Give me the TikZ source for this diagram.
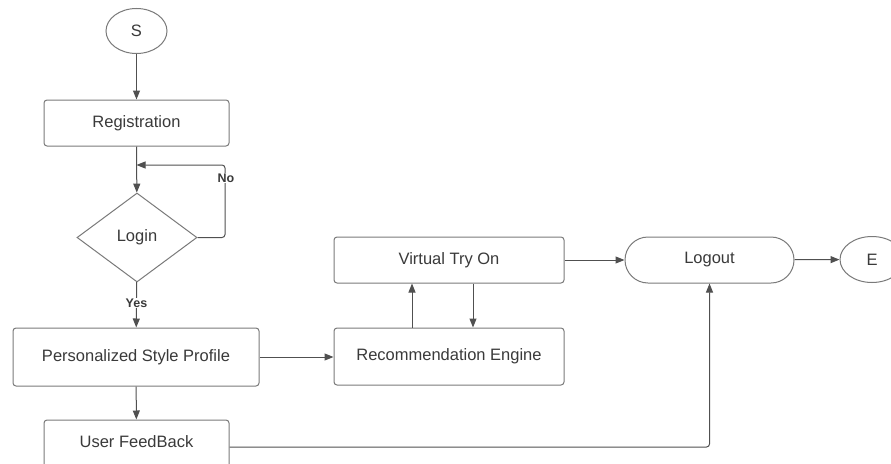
\documentclass[tikz,border=0pt]{standalone}
\usepackage{fontspec}
\setmainfont{Liberation Sans}
\usetikzlibrary{shapes.geometric,arrows.meta}
\definecolor{boxline}{HTML}{7A7A7A}
\definecolor{conn}{HTML}{505050}
\definecolor{txt}{HTML}{3A3A3A}
\tikzset{
  every node/.style={text=txt,font=\fontsize{16.5}{19}\selectfont},
  box/.style={draw=boxline,line width=1pt,rectangle,rounded corners=3pt,inner sep=0pt},
  term/.style={draw=boxline,line width=1pt,ellipse,inner sep=0pt,minimum width=61pt,minimum height=45pt},
  dec/.style={draw=boxline,line width=1pt,diamond,inner sep=0pt,minimum width=120pt,minimum height=89pt},
  conline/.style={draw=conn,line width=1pt},
  arr/.style={conline,-{Triangle[length=9pt,width=7pt]}},
  lbl/.style={fill=white,inner sep=1pt,font=\bfseries\fontsize{12.5}{14}\selectfont}
}
\begin{document}
\begin{tikzpicture}[x=1pt,y=-1pt]
\clip (0,0) rectangle (891,463);
\fill[white] (0,0) rectangle (891,463);
% nodes
\node[term] (s) at (136.5,31) {S};
\node[box,minimum width=185pt,minimum height=46pt] (reg) at (136.5,123) {Registration};
\node[dec] (login) at (137,237.5) {Login};
\node[box,minimum width=246pt,minimum height=58pt] (psp) at (136,357) {Personalized Style Profile};
\node[box,minimum width=185pt,minimum height=48pt] (uf) at (136.5,444) {\raisebox{4pt}{User FeedBack}};
\node[box,minimum width=230pt,minimum height=46pt] (vto) at (449,260) {Virtual Try On};
\node[box,minimum width=230pt,minimum height=57pt] (re) at (449,356.5) {Recommendation Engine};
\node[box,rounded corners=23pt,minimum width=169pt,minimum height=46pt] (logout) at (709.5,260) {Logout};
\node[term,minimum width=64pt,minimum height=46pt] (e) at (872,259.5) {E};
% loop coordinates
\coordinate (noA) at (225,237.5);
\coordinate (noB) at (225,165);
\coordinate (noC) at (136.5,165);
% connectors
\draw[arr] (s) -- (reg);
\draw[arr] (reg) -- (login);
\draw[arr,rounded corners=3pt] (login.east) -- (noA) -- (noB) -- (noC);
\node[lbl] (no) at (226,178) {No};
\draw[arr] (login) -- (psp);
\node[lbl] (yes) at (136.5,303) {Yes};
\draw[arr] (psp) -- (uf);
\draw[arr] (psp) -- (psp -| re.west);
\draw[arr] ([xshift=-37pt]re.north) -- ([xshift=-37pt]vto.south);
\draw[arr] ([xshift=24pt]vto.south) -- ([xshift=24pt]re.north);
\draw[arr] (vto) -- (logout);
\draw[arr] (logout) -- (e);
\draw[arr,rounded corners=3pt] ([yshift=-3pt]uf.east) -| (logout.south);
\end{tikzpicture}
\end{document}
